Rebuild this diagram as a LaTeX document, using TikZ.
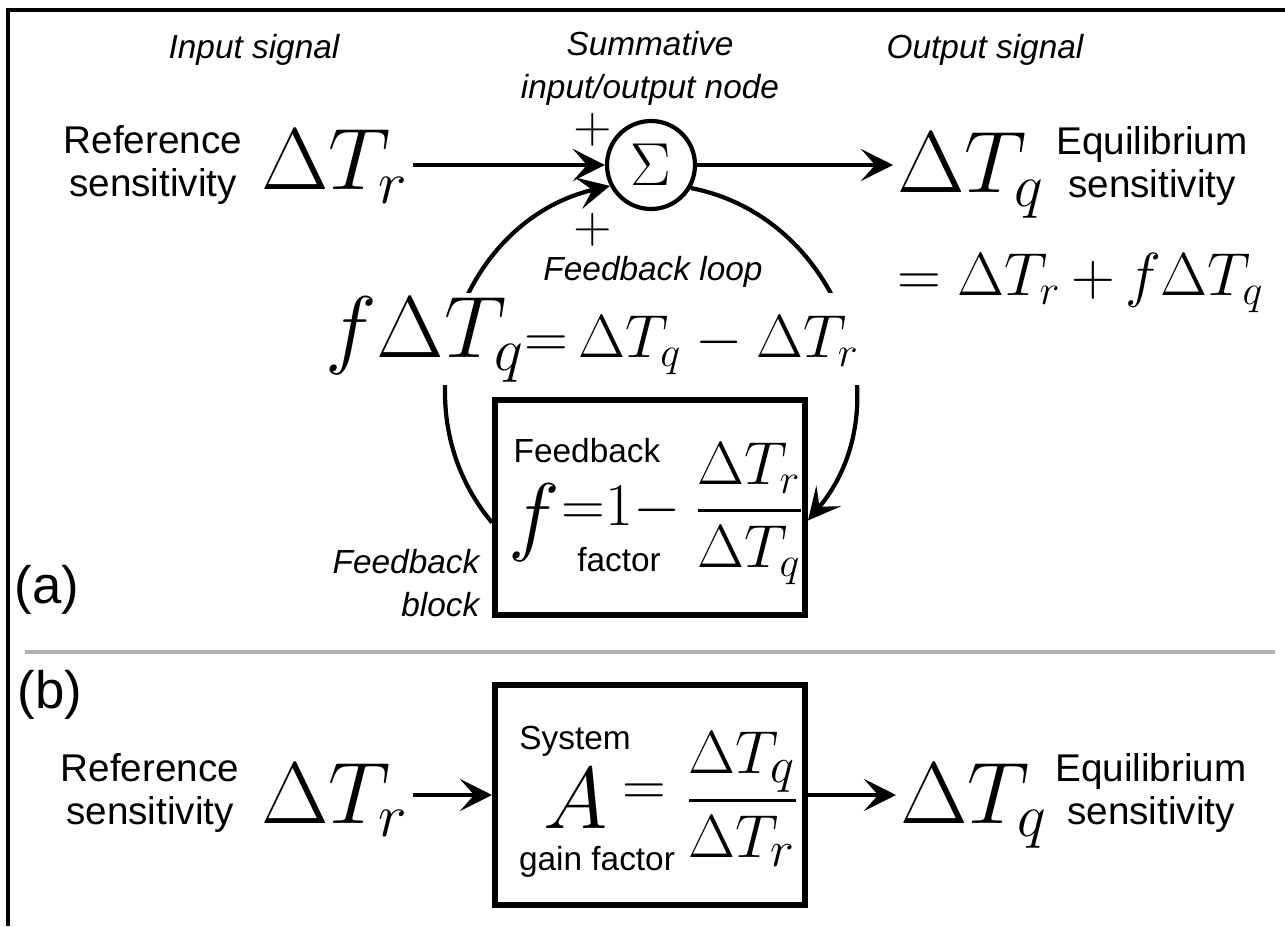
\documentclass[tikz,border=0pt]{standalone}
\usepackage{amsmath}
\usepackage{fontspec}
\setsansfont{Liberation Sans}
\usetikzlibrary{positioning, arrows.meta, calc}

\begin{document}
\begin{tikzpicture}[
        >={Stealth[length=3.2mm, width=3.2mm, inset=1.4mm]},
        sig/.style={->, line width=1.2pt},
        bigmath/.style={inner sep=1pt, font=\fontsize{27}{30}\selectfont},
        midmath/.style={inner sep=1pt, font=\fontsize{16.5}{20}\selectfont},
        boxmath/.style={inner sep=0pt, font=\fontsize{18.5}{20}\selectfont},
        lbl/.style={font=\sffamily\fontsize{11}{12.5}\selectfont, align=center, inner sep=0pt},
        note/.style={font=\sffamily\itshape\fontsize{9.5}{12.2}\selectfont, align=center, inner sep=0pt},
        small/.style={font=\sffamily\fontsize{9.5}{11}\selectfont, inner sep=0pt},
        block/.style={draw, line width=1.7pt, minimum width=3.1cm, minimum height=2.15cm},
        sumnode/.style={draw, circle, line width=1.2pt, minimum size=0.88cm, inner sep=0pt, font=\fontsize{16}{18}\selectfont},
        plus/.style={font=\fontsize{14}{14}\selectfont, inner sep=0pt},
        panel/.style={font=\sffamily\fontsize{15}{15}\selectfont, inner sep=0pt}
        ]
        \useasboundingbox (0,0) rectangle (12.85,9.26);

        % Frame and separator
        \draw[line width=1.1pt] (12.85,9.16) -| (0.08,0);
        \draw[gray!60, line width=1.2pt] (0.25,2.74) -- (12.75,2.74);

        % (a) Nodes
        \node[note] (insig) at (2.54,8.76) {Input signal};
        \node[note] (sumlbl) at (6.50,8.575) {Summative\\input/output node};
        \node[note] (outsig) at (9.85,8.76) {Output signal};

        \node[lbl] (ref1) at (1.53,7.61) {Reference\\sensitivity};
        \node[bigmath, anchor=base west] (dTr1) at (2.57,7.36) {$\Delta T_r$};
        \node[sumnode] (sum) at (6.51,7.61) {$\Sigma$};
        \node[bigmath, anchor=base west] (dTq1) at (8.93,7.33) {$\Delta T_q$};
        \node[lbl] (eq1) at (11.52,7.60) {Equilibrium\\sensitivity};
        \node[midmath, anchor=base west] (sumeq) at (8.93,6.31) {${=}\;\Delta T_r\,{+}\,f\Delta T_q$};

        \node[plus] (plusin) at (5.93,7.96) {$+$};
        \node[plus] (plusfb) at (5.93,6.96) {$+$};

        \node[block] (fbblock) at (6.50,4.185) {};
        \node[small] (fbtxt) at (5.87,4.75) {Feedback};
        \node[inner sep=0pt, font=\fontsize{27}{30}\selectfont] (fsym) at (5.34,4.03) {$f$};
        \node[boxmath, anchor=west] (fdef) at (5.61,4.18) {${=}1{-}$};
        \node[boxmath, anchor=west] (fratio) at (6.93,4.12) {$\dfrac{\Delta T_r}{\Delta T_q}$};
        \node[small] (factxt) at (6.19,3.66) {factor};
        \node[note, align=right, anchor=east] (fblbl) at (4.80,3.43) {Feedback\\block};

        % (a) Arrows
        \draw[sig] (dTr1.east |- sum) -- (sum);
        \draw[sig] (sum) -- (dTq1.west |- sum);
        \draw[sig] (sum.-30) to[out=-11, in=50, looseness=1.1] ([yshift=-1.3mm]fbblock.east);
        \draw[sig] ([yshift=-1.5mm]fbblock.west) to[out=130, in=193, looseness=1.1] (sum.207);

        % loop equation sits over the arc
        \node[fill=white, inner sep=1pt, anchor=base west] (fbeq) at (3.21,5.69)
            {{\fontsize{27}{30}\selectfont$f\Delta T_q$}{\fontsize{17}{20}\selectfont${=}\,\Delta T_q-\Delta T_r$}};
        \node[note] (fbloop) at (6.53,6.54) {Feedback loop};

        \node[panel] (pa) at (0.47,3.36) {(a)};

        % (b) Nodes
        \node[panel] (pb) at (0.50,2.31) {(b)};
        \node[lbl] (ref2) at (1.50,1.33) {Reference\\sensitivity};
        \node[bigmath, anchor=base west] (dTr2) at (2.57,1.03) {$\Delta T_r$};
        \node[block, minimum height=2.2cm] (gainblock) at (6.50,1.31) {};
        \node[small] (systxt) at (5.75,1.85) {System};
        \node[inner sep=0pt, font=\fontsize{28}{30}\selectfont] (Asym) at (5.76,1.27) {$A$};
        \node[inner sep=0pt, font=\fontsize{19}{22}\selectfont] (Aeq) at (6.44,1.31) {$=$};
        \node[inner sep=0pt, anchor=west, font=\fontsize{19}{22}\selectfont] (Aratio) at (6.84,1.27) {$\dfrac{\Delta T_q}{\Delta T_r}$};
        \node[small] (gaintxt) at (5.97,0.64) {gain factor};
        \node[bigmath, anchor=base west] (dTq2) at (8.96,1.03) {$\Delta T_q$};
        \node[lbl] (eq2) at (11.51,1.33) {Equilibrium\\sensitivity};

        % (b) Arrows
        \draw[sig] (dTr2.east |- gainblock) -- (gainblock.west);
        \draw[sig] (gainblock.east) -- (dTq2.west |- gainblock);

    \end{tikzpicture}
\end{document}
